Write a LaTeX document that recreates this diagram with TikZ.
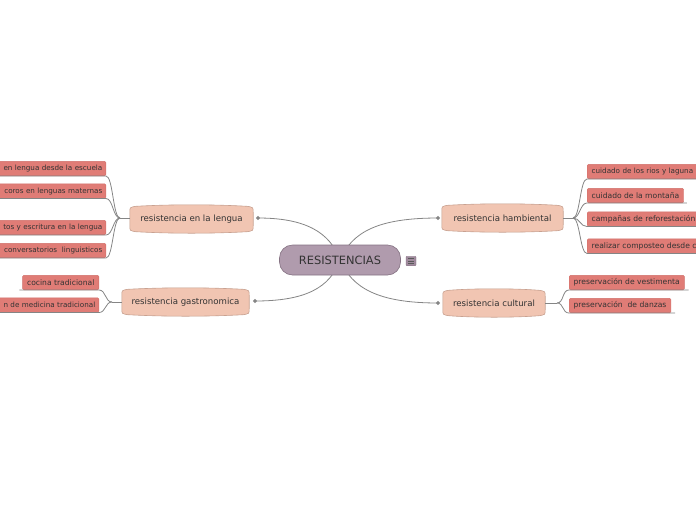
\documentclass[tikz,border=0pt]{standalone}
\usepackage{fontspec}
\setmainfont{DejaVu Sans}
\usetikzlibrary{shapes.geometric,backgrounds,calc}
\definecolor{connc}{HTML}{858585}
\definecolor{txt}{HTML}{333333}
\definecolor{centfill}{HTML}{B09BAD}
\definecolor{centdraw}{HTML}{857283}
\definecolor{subfill}{HTML}{F1C5B2}
\definecolor{subdraw}{HTML}{C9A190}
\definecolor{leaffill}{HTML}{E07C76}
\definecolor{leafdraw}{HTML}{D06F69}
\definecolor{iconfill}{HTML}{A08A9D}
\tikzset{
  conn/.style={draw=connc, line width=0.8pt},
  dia/.style={diamond, fill=connc, inner sep=0pt, minimum size=4.5pt},
  central/.style={fill=centfill, draw=centdraw, line width=0.6pt, rounded corners=13pt,
    minimum width=121pt, minimum height=30pt, inner sep=0pt, text=txt,
    font=\fontsize{11.4}{13}\selectfont},
  subtopic/.style={minimum height=25pt, inner sep=0pt, text=txt, font=\fontsize{8.6}{10}\selectfont},
  subshp/.style={fill=subfill, draw=subdraw, line width=0.6pt},
  subshadow/.style={fill=black!13},
  leaf/.style={fill=leaffill, draw=leafdraw, line width=0.3pt, rounded corners=1.2pt,
    font=\fontsize{7.6}{9}\selectfont, text=txt, inner xsep=4.5pt, inner ysep=0pt,
    minimum height=14.5pt},
  leafL/.style={leaf, text width=130pt, align=right, anchor=south east},
  leafLs/.style={leafL, inner xsep=3.5pt, font=\fontsize{7.2}{9}\selectfont},
  leafR/.style={leaf, text width=130pt, align=left, anchor=south west},
  leafRs/.style={leafR, font=\fontsize{7.2}{9}\selectfont},
  menuicon/.style={fill=iconfill, draw=centdraw, line width=0.4pt,
    minimum width=10pt, minimum height=9.5pt, inner sep=0pt, rounded corners=0.8pt}
}
\newcommand\subpath[1]{%
  ($(#1.north west)+(0,6)$) .. controls ($(#1.north west)+(0,1)$) .. ($(#1.north west)+(6,0)$)
  .. controls ($(#1.north)+(-20,-2)$) and ($(#1.north)+(20,-2)$) .. ($(#1.north east)+(-6,0)$)
  .. controls ($(#1.north east)+(0,1)$) .. ($(#1.north east)+(0,6)$)
  -- ($(#1.south east)+(0,-6)$)
  .. controls ($(#1.south east)+(0,-1)$) .. ($(#1.south east)+(-6,0)$)
  .. controls ($(#1.south)+(20,2)$) and ($(#1.south)+(-20,2)$) .. ($(#1.south west)+(6,0)$)
  .. controls ($(#1.south west)+(0,-1)$) .. ($(#1.south west)+(0,-6)$) -- cycle}
\newcommand\subshape[1]{%
  \fill[subshadow, yshift=-1.5pt] \subpath{#1};
  \draw[subshp] \subpath{#1};}
\begin{document}
\begin{tikzpicture}[x=1pt,y=-1pt]
\useasboundingbox (0,0) rectangle (696,520);
\clip (0,0) rectangle (696,520);

% central
\node[central] (c) at (340,260) {RESISTENCIAS};
\node[menuicon] (m) at (411,261) {};
\foreach \dy in {-2.3,0,2.3}
  \draw[line width=0.6pt, draw=black!65] ([xshift=-3pt,yshift=\dy pt]m.center) -- ([xshift=3pt,yshift=\dy pt]m.center);

% subtopics
\node[subtopic, minimum width=123pt] (lng) at (191.5,219) {resistencia en la lengua};
\node[subtopic, minimum width=127pt] (gas) at (185.5,302) {resistencia gastronomica};
\node[subtopic, minimum width=121pt] (amb) at (502.5,218) {resistencia hambiental};
\node[subtopic, minimum width=102pt] (cul) at (494,303) {resistencia cultural};

% diamonds
\node[dia] (dl) at (258,218) {};
\node[dia] (dg) at (255,301) {};
\node[dia] (da) at (438,218) {};
\node[dia] (dc) at (438,303) {};

\begin{pgfonlayer}{background}
\draw[conn] (c.center) .. controls (330,232) and (305,218) .. (dl.center);
\draw[conn] (c.center) .. controls (330,288) and (305,301) .. (dg.center);
\draw[conn] (c.center) .. controls (352,232) and (378,218) .. (da.center);
\draw[conn] (c.center) .. controls (352,288) and (378,303) .. (dc.center);
\subshape{lng}
\subshape{gas}
\subshape{amb}
\subshape{cul}
\end{pgfonlayer}

% hubs
\coordinate (hl) at (120,218);
\coordinate (hg) at (112,302);
\coordinate (ha) at (573,218);
\coordinate (hc) at (557,303);
\draw[conn] (lng.west |- hl) -- (hl);
\draw[conn] (gas.west |- hg) -- (hg);
\draw[conn] (amb.east |- ha) -- (ha);
\draw[conn] (cul.east |- hc) -- (hc);

% leaves: lengua
\node[leafLs] (l1) at (106,176) {en lengua desde la escuela};
\node[leafLs] (l2) at (106,198.5) {coros en lenguas maternas};
\node[leafLs] (l3) at (106,235) {tos y escritura en la lengua};
\node[leafLs] (l4) at (106,258) {conversatorios~ linguisticos};
\foreach \n in {l1,l2,l3,l4}
  \draw[conn] (hl) .. controls ($(hl)+(-7,0)$) and ($(\n.south east)+(7,0)$) .. (\n.south east) -- (\n.south west);

% leaves: gastronomica
\node[leaf, anchor=south east] (g1) at (99,290) {cocina tradicional};
\node[leafLs] (g2) at (99,312.5) {n de medicina tradicional};
\draw[conn] (hg) .. controls ($(hg)+(-7,0)$) and ($(g1.south east)+(7,0)$) .. (g1.south east) -- ($(g1.south west)+(-3,0)$);
\draw[conn] (hg) .. controls ($(hg)+(-7,0)$) and ($(g2.south east)+(7,0)$) .. (g2.south east) -- (g2.south west);

% leaves: hambiental
\node[leafRs] (r1) at (587,179) {cuidado de los rios y laguna};
\node[leaf, anchor=south west] (r2) at (587,203) {cuidado de la montaña};
\node[leafR] (r3) at (587,226.5) {campañas de reforestación};
\node[leafR] (r4) at (587,253.5) {realizar composteo desde c};
\foreach \n in {r1,r3,r4}
  \draw[conn] (ha) .. controls ($(ha)+(7,0)$) and ($(\n.south west)+(-7,0)$) .. (\n.south west) -- (\n.south east);
\draw[conn] (ha) .. controls ($(ha)+(7,0)$) and ($(r2.south west)+(-7,0)$) .. (r2.south west) -- ($(r2.south east)+(3,0)$);

% leaves: cultural
\node[leaf, anchor=south west] (c1) at (569,290) {preservación de vestimenta};
\node[leaf, anchor=south west] (c2) at (569,313) {preservación~ de danzas};
\foreach \n in {c1,c2}
  \draw[conn] (hc) .. controls ($(hc)+(7,0)$) and ($(\n.south west)+(-7,0)$) .. (\n.south west) -- ($(\n.south east)+(4,0)$);
\end{tikzpicture}
\end{document}
